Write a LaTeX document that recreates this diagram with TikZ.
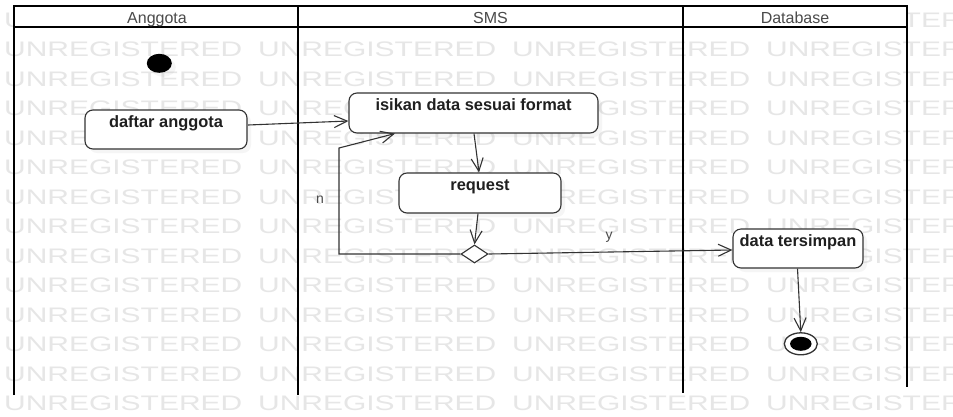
\documentclass[tikz,border=0pt]{standalone}
\usepackage{fontspec}
\setmainfont{Liberation Sans}
\usetikzlibrary{arrows.meta,shapes.geometric,shadows,calc}

\definecolor{wmgray}{HTML}{E6E6E6}
\definecolor{edgegray}{HTML}{333333}
\definecolor{headgray}{HTML}{4A4A4A}

\begin{document}
\begin{tikzpicture}[x=1pt,y=-1pt,
  wm/.style={anchor=base west, inner sep=0pt, text=wmgray,
    font=\fontsize{21}{21}\selectfont},
  lane/.style={line width=2pt, draw=black},
  lanehead/.style={anchor=base, inner sep=0pt, text=headgray,
    font=\fontsize{16}{18}\selectfont},
  act/.style={rectangle, draw=edgegray, line width=1.1pt, rounded corners=8pt,
    fill=white, inner sep=0pt, text=black!88, text height=17.5pt,
    font=\fontsize{16.4}{18}\selectfont\bfseries,
    drop shadow={shadow xshift=4pt, shadow yshift=-4pt, opacity=0.08}},
  flow/.style={draw=edgegray, line width=1.1pt,
    -{Straight Barb[length=13pt,width=12pt]}},
  guard/.style={inner sep=0pt, text=headgray, font=\fontsize{14}{16}\selectfont},
]
\useasboundingbox (0,0) rectangle (953,416);
\fill[white] (0,0) rectangle (953,416);

% watermark rows
\begin{scope}
  \clip (0,0) rectangle (953,416);
  \foreach \r in {0,...,13}{
    \foreach \c in {0,...,3}{
      \node[wm] (wm-\r-\c) at ({4+254*\c},{27+29.5*\r}) {\scalebox{1.427}[1]{UNREGISTERED}};
    }
  }
\end{scope}

% swimlane frame
\fill[white] (14,6) rectangle (907,27);
\draw[lane] (14,395) -- (14,6) -- (907,6) -- (907,387);
\draw[lane] (14,27) -- (907,27);
\draw[lane] (298,6) -- (298,395);
\draw[lane] (683,6) -- (683,393);

\node[lanehead] (hd-anggota) at (157,23.3) {Anggota};
\node[lanehead] (hd-sms) at (490.5,23.3) {SMS};
\node[lanehead] (hd-db) at (795,23.3) {Database};

% activities
\node[ellipse, fill=black, minimum width=25pt, minimum height=19pt, inner sep=0pt,
  drop shadow={shadow xshift=4pt, shadow yshift=-4pt, opacity=0.08}] (start) at (159.3,63.3) {};

\node[act, minimum width=162pt, minimum height=39pt, text depth=21.5pt] (daftar) at (166,129.5) {daftar anggota};
\node[act, minimum width=249pt, minimum height=40pt, text depth=22.5pt] (isikan) at (473.5,113) {isikan data sesuai format};
\node[act, minimum width=162pt, minimum height=40pt, text depth=22.5pt] (request) at (480,193) {request};
\node[act, minimum width=130pt, minimum height=39pt, text depth=21.5pt] (simpan) at (798,248.5) {data tersimpan};

\node[diamond, draw=edgegray, line width=1.1pt, fill=white, inner sep=0pt,
  minimum width=27pt, minimum height=18pt] (cek) at (474.5,254) {};

\node[ellipse, draw=edgegray, line width=1.3pt, fill=white, inner sep=0pt,
  minimum width=33pt, minimum height=22pt] (end) at (800.8,343.8) {};
\node[ellipse, fill=black, inner sep=0pt, minimum width=21.5pt, minimum height=14pt] (endcore) at (end.center) {};

% transitions
\draw[flow] ($(daftar.east)+(0.5,-4.5)$) -- ($(isikan.west)+(0,8)$);
\draw[flow] ($(isikan.south)+(0.5,0)$) -- ($(request.north)+(-1,0)$);
\draw[flow] ($(request.south)+(-2,0)$) -- (cek.north);
\coordinate (loopA) at (339,254);
\coordinate (loopB) at (339,148);
\draw[flow] (cek.west) -- (loopA) -- (loopB) -- ($(isikan.south)+(-78.5,0)$);
\draw[flow] (cek.east) -- ($(simpan.west)+(0,1.5)$);
\draw[flow] ($(simpan.south)+(-0.5,0)$) -- (end.north);

\node[guard] (g-n) at (320,200) {n};
\node[guard] (g-y) at (609,237) {y};
\end{tikzpicture}
\end{document}
